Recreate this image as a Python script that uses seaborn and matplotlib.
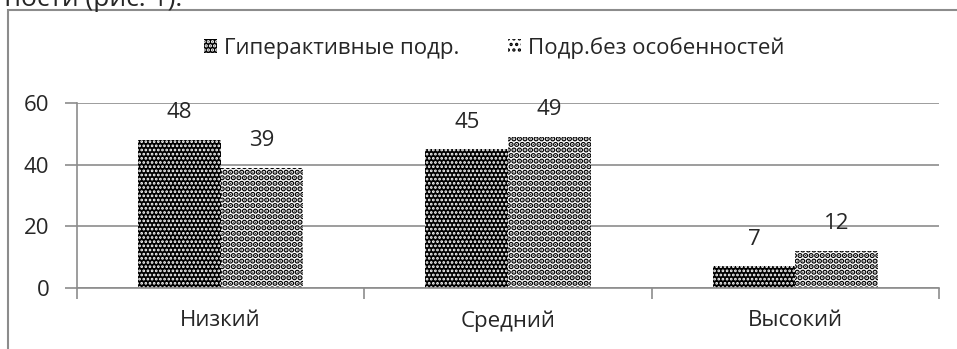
import pandas as pd
import matplotlib.pyplot as plt
import seaborn as sns
from matplotlib.patches import Rectangle, Patch

# Данные диаграммы
levels = ['Низкий', 'Средний', 'Высокий']
hyper = [48, 45, 7]
normal = [39, 49, 12]
series_names = ['Гиперактивные подр.', 'Подр.без особенностей']

df = pd.DataFrame({
    'Уровень': levels * 2,
    'Значение': hyper + normal,
    'Группа': [series_names[0]] * 3 + [series_names[1]] * 3,
})

sns.set_theme(style='white')
plt.rcParams['font.family'] = ['Open Sans', 'DejaVu Sans']
plt.rcParams['hatch.linewidth'] = 1.6

fig = plt.figure(figsize=(9.57, 3.49), dpi=100)
ax = fig.add_axes([77 / 957, 1 - 288 / 349, (939 - 77) / 957, (288 - 103) / 349])

sns.barplot(data=df, x='Уровень', y='Значение', hue='Группа',
            palette=['black', 'white'], width=0.575, legend=False, ax=ax,
            saturation=1)

# (заливка, цвет штриховки, штриховка, толщина штриховки)
styles = [('black', 'white', '....', 1.3), ('white', 'black', '...', 2.8)]


def style_patch(p, fc, hc, h, hlw):
    p.set_facecolor(fc)
    p.set_edgecolor(hc)
    p.set_hatch(h)
    p.set_linewidth(0)
    if hasattr(p, 'set_hatch_linewidth'):
        p.set_hatch_linewidth(hlw)


for cont, st in zip(ax.containers, styles):
    for bar in cont:
        style_patch(bar, *st)
    ax.bar_label(cont, padding=12, fontsize=16)

ax.set_ylim(0, 60)
ax.set_xlim(-0.5, 2.5)
ax.set_yticks([0, 20, 40, 60])
ax.yaxis.grid(True, color='#8c8c8c', linewidth=1.2)
ax.set_axisbelow(True)
ax.set_xlabel('')
ax.set_ylabel('')

for side in ['top', 'right']:
    ax.spines[side].set_visible(False)
for side in ['left', 'bottom']:
    ax.spines[side].set_color('#8c8c8c')
    ax.spines[side].set_linewidth(1.2)

ax.tick_params(axis='y', length=9, width=1.2, color='#8c8c8c', labelsize=16, pad=11, left=True)
ax.tick_params(axis='x', which='major', length=0, labelsize=16, pad=16)
ax.set_xticks([-0.5, 0.5, 1.5, 2.5], minor=True)
ax.tick_params(axis='x', which='minor', length=8, width=1.2, color='#8c8c8c', bottom=True)

handles = []
for st in styles:
    hp = Patch()
    style_patch(hp, *st)
    handles.append(hp)
fig.legend(handles, series_names, loc='center', bbox_to_anchor=(494 / 957, 1 - 48 / 349),
           ncol=2, frameon=False, fontsize=16,
           handlelength=0.6, handleheight=0.6, handletextpad=0.3, columnspacing=2.2)

# рамка области диаграммы
fig.patches.append(Rectangle((8 / 957, -0.1), 1.2, 1 - 10 / 349 + 0.1,
                             transform=fig.transFigure, fill=False,
                             edgecolor='#8c8c8c', linewidth=1.5))
fig.text(-0.008, 1 - 6 / 349, 'тности (рис. 1).', fontsize=19, va='baseline', ha='left')

fig.savefig('out.png', dpi=100)
